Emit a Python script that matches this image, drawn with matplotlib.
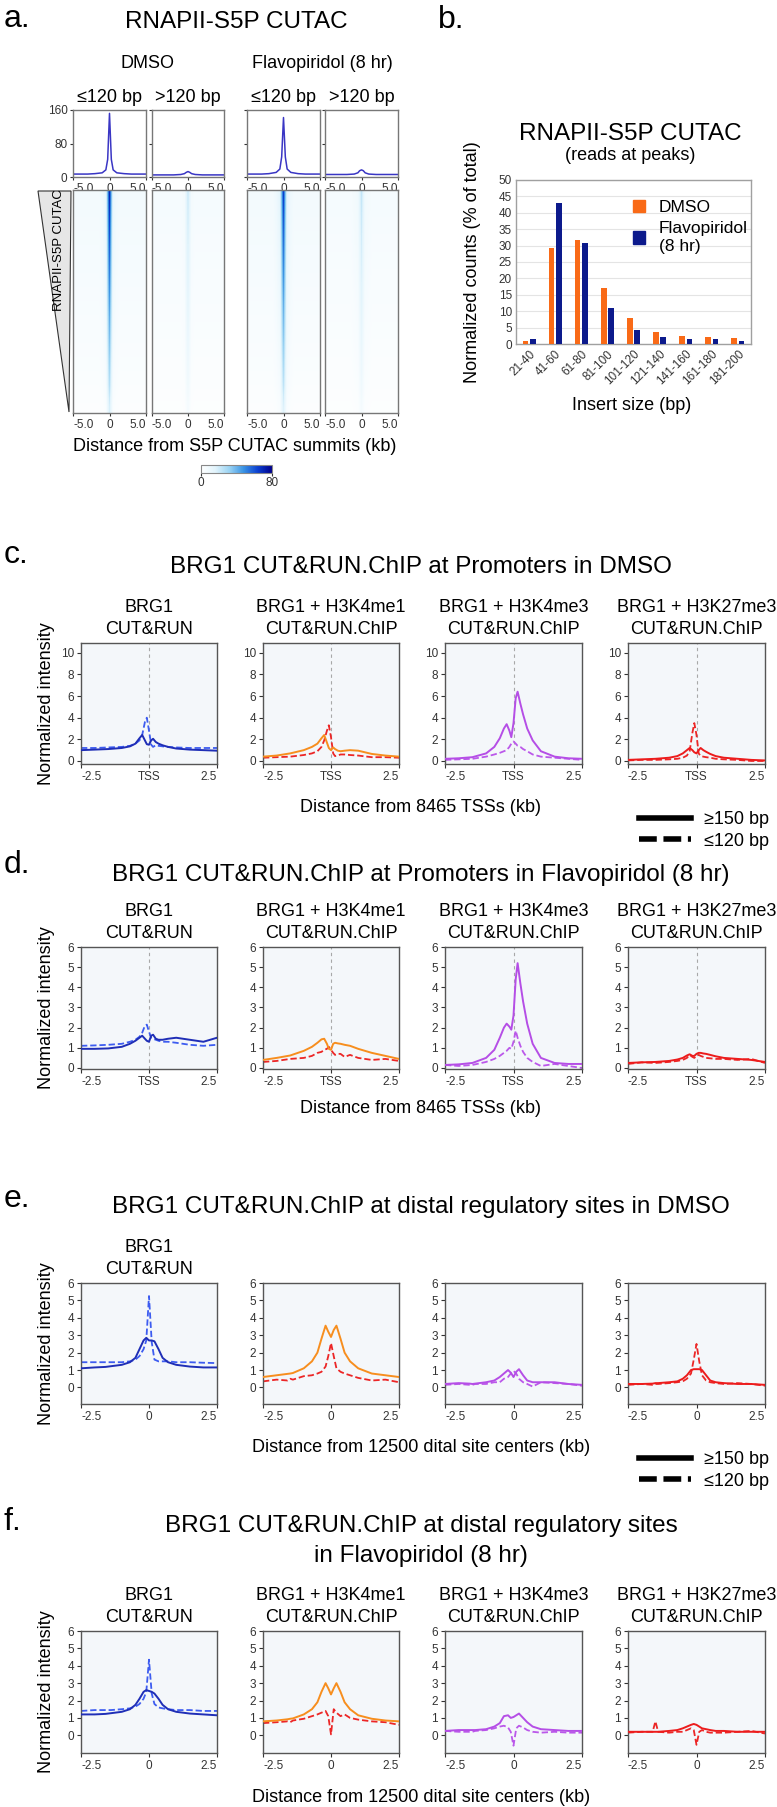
import numpy as np
import matplotlib
matplotlib.use("Agg")
import matplotlib.pyplot as plt
from matplotlib.colors import LinearSegmentedColormap
from matplotlib.lines import Line2D
from matplotlib.patches import Patch, Polygon

plt.rcParams['font.family'] = ['Liberation Sans', 'DejaVu Sans']

# ------------------------
# Data
# ------------------------

# a. RNAPII-S5P CUTAC profiles around summits (kb)
a_x = [-5.0, -3.0, -2.0, -1.0, -0.5, -0.25, 0.0, 0.25, 0.5, 1.0, 2.0, 3.0, 5.0]
a_dmso_short = [7, 7, 8, 10, 17, 42, 152, 42, 17, 10, 8, 7, 7]
a_dmso_long = [5, 5, 5, 6, 8, 11, 13, 11, 8, 6, 5, 5, 5]
a_flavo_short = [7, 7, 8, 11, 19, 48, 142, 48, 19, 11, 8, 7, 7]
a_flavo_long = [6, 6, 6, 7, 10, 15, 17, 15, 10, 7, 6, 6, 6]

# heatmap: row scaling (top -> bottom) and column intensity (21 bins, -5..5 kb)
heat_rows = [1.35, 1.3, 1.25, 1.2, 1.15, 1.1, 1.05, 1.0, 0.95, 0.9,
             0.85, 0.8, 0.75, 0.7, 0.65, 0.6, 0.55, 0.5, 0.42, 0.35]
heat_dmso_short = [5, 5, 5, 5, 5, 5, 5, 5, 6, 9, 52, 9, 6, 5, 5, 5, 5, 5, 5, 5, 5]
heat_dmso_long = [4, 4, 4, 4, 4, 4, 4, 4, 4, 5, 16, 5, 4, 4, 4, 4, 4, 4, 4, 4, 4]
heat_flavo_short = [5, 5, 5, 5, 5, 5, 5, 5, 7, 11, 48, 11, 7, 5, 5, 5, 5, 5, 5, 5, 5]
heat_flavo_long = [4, 4, 4, 4, 4, 4, 4, 4, 5, 6, 17, 6, 5, 4, 4, 4, 4, 4, 4, 4, 4]

# b. insert size distribution (% of total)
b_bins = ['21-40', '41-60', '61-80', '81-100', '101-120', '121-140', '141-160', '161-180', '181-200']
b_dmso = [0.9, 29.3, 31.8, 17.1, 7.9, 3.8, 2.4, 2.0, 1.8]
b_flavo = [1.5, 42.9, 30.9, 11.1, 4.4, 2.1, 1.5, 1.5, 1.0]

# c/d. promoters (distance from TSS, kb)
x_prom = [-2.5, -2.0, -1.5, -1.0, -0.7, -0.5, -0.35, -0.25, -0.15, -0.08, 0.0,
          0.08, 0.15, 0.25, 0.35, 0.5, 0.7, 1.0, 1.5, 2.0, 2.5]
c_brg1_long = [1.0, 1.05, 1.1, 1.2, 1.35, 1.6, 2.1, 2.4, 1.9, 1.55, 1.5, 1.9, 2.05, 1.75, 1.6, 1.45, 1.3, 1.15, 1.05, 1.0, 0.95]
c_brg1_short = [1.2, 1.2, 1.25, 1.3, 1.4, 1.6, 1.9, 2.4, 3.6, 4.0, 2.8, 1.5, 1.3, 1.45, 1.4, 1.35, 1.3, 1.25, 1.2, 1.2, 1.2]
c_me1_long = [0.4, 0.5, 0.7, 1.0, 1.3, 1.6, 2.1, 2.4, 1.7, 1.2, 1.0, 1.25, 1.1, 0.95, 0.9, 0.95, 1.0, 0.95, 0.65, 0.5, 0.4]
c_me1_short = [0.3, 0.35, 0.4, 0.55, 0.7, 0.9, 1.3, 1.9, 2.8, 3.3, 2.2, 0.7, 0.45, 0.5, 0.6, 0.6, 0.55, 0.5, 0.35, 0.35, 0.3]
c_me3_long = [0.2, 0.25, 0.35, 0.7, 1.3, 2.1, 3.0, 3.4, 2.8, 2.2, 3.5, 5.8, 6.4, 5.3, 4.3, 3.0, 1.9, 0.9, 0.4, 0.25, 0.2]
c_me3_short = [0.1, 0.15, 0.2, 0.4, 0.6, 0.75, 0.9, 1.0, 1.3, 1.6, 1.8, 1.6, 1.4, 1.3, 1.1, 0.9, 0.6, 0.4, 0.3, 0.2, 0.1]
c_k27_long = [0.1, 0.15, 0.2, 0.3, 0.45, 0.7, 1.0, 1.2, 1.0, 0.8, 0.7, 1.0, 1.2, 1.0, 0.85, 0.65, 0.45, 0.3, 0.2, 0.1, 0.05]
c_k27_short = [0.05, 0.1, 0.1, 0.15, 0.2, 0.3, 0.5, 0.9, 2.6, 3.5, 2.4, 0.7, 0.45, 0.4, 0.35, 0.3, 0.2, 0.15, 0.1, 0.0, 0.0]

d_brg1_long = [0.95, 0.95, 0.97, 1.05, 1.2, 1.35, 1.5, 1.6, 1.45, 1.35, 1.3, 1.6, 1.65, 1.45, 1.4, 1.4, 1.45, 1.5, 1.4, 1.3, 1.5]
d_brg1_short = [1.1, 1.12, 1.15, 1.2, 1.3, 1.4, 1.55, 1.75, 2.1, 2.15, 1.8, 1.5, 1.45, 1.4, 1.35, 1.3, 1.3, 1.25, 1.15, 1.1, 1.15]
d_me1_long = [0.4, 0.5, 0.62, 0.85, 1.05, 1.25, 1.42, 1.45, 1.2, 0.95, 0.9, 1.2, 1.25, 1.22, 1.2, 1.15, 1.1, 0.95, 0.75, 0.6, 0.45]
d_me1_short = [0.3, 0.35, 0.45, 0.5, 0.6, 0.75, 0.8, 0.9, 0.95, 1.05, 0.9, 0.75, 0.65, 0.7, 0.7, 0.55, 0.65, 0.5, 0.4, 0.45, 0.35]
d_me3_long = [0.15, 0.18, 0.25, 0.5, 0.9, 1.5, 2.0, 2.2, 2.05, 1.9, 2.6, 4.4, 5.2, 4.2, 3.3, 2.2, 1.2, 0.5, 0.25, 0.2, 0.2]
d_me3_short = [0.15, 0.1, 0.15, 0.3, 0.45, 0.6, 0.75, 0.85, 1.0, 0.95, 1.3, 1.85, 1.5, 1.1, 0.8, 0.5, 0.3, 0.1, 0.2, 0.1, 0.0]
d_k27_long = [0.25, 0.28, 0.3, 0.35, 0.42, 0.5, 0.62, 0.68, 0.6, 0.6, 0.7, 0.75, 0.75, 0.72, 0.7, 0.65, 0.58, 0.5, 0.45, 0.4, 0.3]
d_k27_short = [0.2, 0.28, 0.25, 0.3, 0.35, 0.4, 0.5, 0.65, 0.55, 0.5, 0.6, 0.65, 0.6, 0.55, 0.5, 0.48, 0.45, 0.45, 0.4, 0.45, 0.25]

# e/f. distal regulatory sites (distance from site center, kb)
x_dist = [-2.5, -2.0, -1.6, -1.5, -1.4, -1.0, -0.7, -0.5, -0.35, -0.2, -0.1, 0.0,
          0.1, 0.2, 0.35, 0.5, 0.7, 1.0, 1.5, 2.0, 2.5]
e_brg1_long = [1.1, 1.15, 1.18, 1.2, 1.22, 1.3, 1.45, 1.7, 2.2, 2.7, 2.85, 2.7, 2.7, 2.65, 2.2, 1.7, 1.45, 1.3, 1.2, 1.15, 1.15]
e_brg1_short = [1.45, 1.45, 1.45, 1.45, 1.45, 1.45, 1.5, 1.6, 1.8, 2.2, 2.7, 5.25, 2.6, 1.6, 1.5, 1.5, 1.5, 1.45, 1.45, 1.42, 1.4]
e_me1_long = [0.6, 0.7, 0.78, 0.8, 0.83, 1.1, 1.5, 2.0, 2.8, 3.55, 3.2, 2.9, 3.3, 3.55, 2.8, 2.0, 1.5, 1.1, 0.8, 0.7, 0.6]
e_me1_short = [0.35, 0.45, 0.4, 0.5, 0.45, 0.65, 0.7, 0.8, 0.9, 1.2, 1.8, 2.55, 1.8, 1.1, 0.9, 0.8, 0.7, 0.55, 0.4, 0.45, 0.3]
e_me3_long = [0.2, 0.25, 0.22, 0.2, 0.22, 0.3, 0.4, 0.6, 0.8, 1.0, 0.85, 0.6, 0.9, 1.05, 0.7, 0.4, 0.3, 0.3, 0.3, 0.2, 0.15]
e_me3_short = [0.15, 0.2, 0.15, 0.15, 0.2, 0.2, 0.3, 0.3, 0.5, 0.6, 0.8, 0.95, 0.8, 0.5, 0.3, 0.2, 0.05, 0.3, 0.25, 0.2, 0.1]
e_k27_long = [0.2, 0.2, 0.22, 0.25, 0.25, 0.3, 0.35, 0.5, 0.7, 1.0, 1.05, 1.05, 1.05, 1.0, 0.7, 0.4, 0.3, 0.25, 0.2, 0.2, 0.15]
e_k27_short = [0.15, 0.2, 0.15, 0.2, 0.2, 0.25, 0.3, 0.35, 0.5, 0.8, 1.6, 2.5, 1.5, 0.7, 0.4, 0.3, 0.25, 0.2, 0.25, 0.2, 0.1]

f_brg1_long = [1.2, 1.2, 1.23, 1.25, 1.27, 1.35, 1.5, 1.75, 2.1, 2.5, 2.6, 2.55, 2.5, 2.4, 2.1, 1.75, 1.5, 1.35, 1.25, 1.2, 1.15]
f_brg1_short = [1.4, 1.45, 1.45, 1.45, 1.45, 1.5, 1.55, 1.65, 1.8, 2.1, 2.5, 4.35, 2.4, 1.8, 1.6, 1.55, 1.5, 1.45, 1.45, 1.4, 1.4]
f_me1_long = [0.8, 0.85, 0.92, 0.95, 0.97, 1.2, 1.5, 1.9, 2.5, 3.0, 2.7, 2.35, 2.7, 3.0, 2.5, 1.9, 1.5, 1.15, 0.95, 0.85, 0.8]
f_me1_short = [0.7, 0.75, 0.8, 0.75, 0.85, 0.95, 1.1, 1.2, 1.3, 1.4, 1.1, 0.05, 1.5, 1.3, 1.1, 1.2, 1.0, 0.9, 0.8, 0.75, 0.6]
f_me3_long = [0.25, 0.3, 0.3, 0.3, 0.3, 0.35, 0.5, 0.7, 1.1, 1.15, 1.0, 1.05, 1.15, 1.25, 1.0, 0.75, 0.5, 0.35, 0.3, 0.25, 0.25]
f_me3_short = [0.25, 0.2, 0.2, 0.2, 0.25, 0.3, 0.4, 0.5, 0.55, 0.45, 0.2, -0.6, 0.4, 0.55, 0.45, 0.3, 0.2, 0.15, 0.2, 0.15, 0.15]
f_k27_long = [0.2, 0.2, 0.2, 0.2, 0.2, 0.25, 0.3, 0.4, 0.5, 0.6, 0.65, 0.6, 0.5, 0.4, 0.35, 0.3, 0.25, 0.25, 0.2, 0.2, 0.2]
f_k27_short = [0.15, 0.2, 0.2, 0.8, 0.2, 0.15, 0.2, 0.2, 0.3, 0.4, 0.3, -0.55, 0.2, 0.3, 0.2, 0.15, 0.15, 0.15, 0.2, 0.25, 0.1]

sub_titles = [('BRG1', 'CUT&RUN'), ('BRG1 + H3K4me1', 'CUT&RUN.ChIP'),
              ('BRG1 + H3K4me3', 'CUT&RUN.ChIP'), ('BRG1 + H3K27me3', 'CUT&RUN.ChIP')]
line_colors = [('#1f2eb6', '#3d5cf0'), ('#f78e1e', '#ec2626'),
               ('#b54ee6', '#bb58ea'), ('#ec1c1c', '#ec2626')]

# ------------------------
# Layout helpers (pixel coordinates, origin top-left)
# ------------------------
W, H = 777, 1807
fig = plt.figure(figsize=(W / 100, H / 100), dpi=100)


def box(x0, y0, x1, y1):
    return fig.add_axes([x0 / W, 1 - y1 / H, (x1 - x0) / W, (y1 - y0) / H])


def txt(x, y, s, size, **kw):
    kw.setdefault('ha', 'center')
    kw.setdefault('va', 'baseline')
    fig.text(x / W, 1 - y / H, s, fontsize=size, **kw)


def edge_labels(ax):
    labs = ax.get_xticklabels()
    labs[0].set_ha('left')
    labs[-1].set_ha('right')


def frame(ax, color='#555555'):
    for s in ax.spines.values():
        s.set_color(color)
        s.set_linewidth(1.0)


# ------------------------
# a. heatmaps
# ------------------------
txt(4, 27, 'a.', 23, ha='left')
txt(236, 28, 'RNAPII-S5P CUTAC', 17.5)
txt(148, 68, 'DMSO', 13)
txt(322, 68, 'Flavopiridol (8 hr)', 13)

heat_cmap = LinearSegmentedColormap.from_list(
    'cutac', ['#ffffff', '#e2f4fc', '#9ad3f3', '#3a93e4', '#0b3fd0', '#00008b'])

a_cols = [(73, 146), (152, 224), (247, 320), (325, 398)]
a_profiles = [a_dmso_short, a_dmso_long, a_flavo_short, a_flavo_long]
a_heat = [heat_dmso_short, heat_dmso_long, heat_flavo_short, heat_flavo_long]
a_heads = ['\u2264120 bp', '>120 bp', '\u2264120 bp', '>120 bp']

for i, (x0, x1) in enumerate(a_cols):
    txt((x0 + x1) / 2, 102, a_heads[i], 13)

    ax = box(x0, 110, x1, 177)
    ax.plot(a_x, a_profiles[i], color='#3a36c4', lw=1.1)
    ax.set_xlim(-5, 5)
    ax.set_ylim(0, 160)
    ax.set_yticks([0, 80, 160])
    ax.set_xticks([-5, 0, 5])
    ax.set_xticklabels(['-5.0', '0', '5.0'])
    edge_labels(ax)
    if i > 0:
        ax.set_yticklabels([])
    ax.tick_params(labelsize=8.5, length=2.5, pad=1.5, colors='#333333')
    frame(ax, '#777777')

    axh = box(x0, 190, x1, 413)
    img = np.outer(heat_rows, a_heat[i])
    im = axh.imshow(img, aspect='auto', cmap=heat_cmap, vmin=0, vmax=80,
                    extent=(-5, 5, len(heat_rows), 0), interpolation='bilinear')
    axh.set_xticks([-5, 0, 5])
    axh.set_xticklabels(['-5.0', '0', '5.0'])
    edge_labels(axh)
    axh.set_yticks([])
    axh.tick_params(labelsize=8.5, length=2.5, pad=2, colors='#333333')
    frame(axh, '#777777')

# sorting wedge
wedge = Polygon([(38 / W, 1 - 191 / H), (71 / W, 1 - 191 / H), (69 / W, 1 - 412 / H)],
                closed=True, transform=fig.transFigure, facecolor='#e6e6e6',
                edgecolor='#333333', lw=0.8)
fig.add_artist(wedge)
txt(59, 250, 'RNAPII-S5P CUTAC', 9.5, rotation=90, va='center')

txt(235, 451, 'Distance from S5P CUTAC summits (kb)', 13)

cax = box(201, 465, 272, 473)
cb = fig.colorbar(im, cax=cax, orientation='horizontal', ticks=[0, 80])
cb.outline.set_edgecolor('#888888')
cb.outline.set_linewidth(0.8)
cax.tick_params(labelsize=8.5, length=2, pad=1, colors='#333333')

# ------------------------
# b. insert size bars
# ------------------------
txt(438, 28, 'b.', 23, ha='left')
txt(630, 140, 'RNAPII-S5P CUTAC', 17.5)
txt(630, 160, '(reads at peaks)', 13)

axb = box(516, 180, 751, 344)
pos = np.arange(len(b_bins))
axb.bar(pos - 0.14, b_dmso, width=0.22, color='#f96a17', zorder=3)
axb.bar(pos + 0.14, b_flavo, width=0.22, color='#0c1a8c', zorder=3)
axb.set_xlim(-0.5, len(b_bins) - 0.5)
axb.set_ylim(0, 50)
axb.set_yticks(range(0, 51, 5))
axb.set_xticks(pos)
axb.set_xticklabels(b_bins, rotation=45, ha='right', va='top', rotation_mode='anchor')
axb.tick_params(axis='x', labelsize=8.5, length=0, pad=3, colors='#333333')
axb.tick_params(axis='y', labelsize=8.5, length=0, pad=3, colors='#333333')
axb.grid(axis='y', color='#e4e4e4', lw=0.8, zorder=0)
frame(axb, '#a0a0a0')
axb.legend([Patch(color='#f96a17'), Patch(color='#0c1a8c')],
           ['DMSO', 'Flavopiridol\n(8 hr)'], loc='upper left',
           bbox_to_anchor=(0.46, 0.93), frameon=False, fontsize=12.5,
           handlelength=0.7, handleheight=0.7, handletextpad=0.8,
           labelspacing=0.35, borderpad=0)
txt(472, 262, 'Normalized counts (% of total)', 13, rotation=90, va='center')
txt(632, 410, 'Insert size (bp)', 13)

# ------------------------
# c-f. profile rows
# ------------------------
cols_x = [(81, 217), (263, 399), (445, 582), (628, 765)]

rows = [
    dict(letter='c.', letter_y=563, titles=['BRG1 CUT&RUN.ChIP at Promoters in DMSO'], title_y=573,
         top=643, bot=764, ylim=(-0.28, 10.9), yticks=range(0, 11, 2), sub=[0, 1, 2, 3],
         x=x_prom, data=[(c_brg1_long, c_brg1_short), (c_me1_long, c_me1_short),
                         (c_me3_long, c_me3_short), (c_k27_long, c_k27_short)],
         xt=['-2.5', 'TSS', '2.5'], tss=True,
         xlabel='Distance from 8465 TSSs (kb)', xlabel_y=812, legend_y=813),
    dict(letter='d.', letter_y=873, titles=['BRG1 CUT&RUN.ChIP at Promoters in Flavopiridol (8 hr)'],
         title_y=881, top=947, bot=1069, ylim=(-0.05, 6), yticks=range(0, 7), sub=[0, 1, 2, 3],
         x=x_prom, data=[(d_brg1_long, d_brg1_short), (d_me1_long, d_me1_short),
                         (d_me3_long, d_me3_short), (d_k27_long, d_k27_short)],
         xt=['-2.5', 'TSS', '2.5'], tss=True,
         xlabel='Distance from 8465 TSSs (kb)', xlabel_y=1113, legend_y=None),
    dict(letter='e.', letter_y=1207, titles=['BRG1 CUT&RUN.ChIP at distal regulatory sites in DMSO'],
         title_y=1213, top=1283, bot=1404, ylim=(-0.95, 6), yticks=range(0, 7), sub=[0],
         x=x_dist, data=[(e_brg1_long, e_brg1_short), (e_me1_long, e_me1_short),
                         (e_me3_long, e_me3_short), (e_k27_long, e_k27_short)],
         xt=['-2.5', '0', '2.5'], tss=False,
         xlabel='Distance from 12500 dital site centers (kb)', xlabel_y=1452, legend_y=1453),
    dict(letter='f.', letter_y=1530, titles=['BRG1 CUT&RUN.ChIP at distal regulatory sites',
                                             'in Flavopiridol (8 hr)'],
         title_y=1532, top=1631, bot=1753, ylim=(-1.02, 6), yticks=range(0, 7), sub=[0, 1, 2, 3],
         x=x_dist, data=[(f_brg1_long, f_brg1_short), (f_me1_long, f_me1_short),
                         (f_me3_long, f_me3_short), (f_k27_long, f_k27_short)],
         xt=['-2.5', '0', '2.5'], tss=False,
         xlabel='Distance from 12500 dital site centers (kb)', xlabel_y=1802, legend_y=None),
]

for r in rows:
    txt(4, r['letter_y'], r['letter'], 23, ha='left')
    for k, t in enumerate(r['titles']):
        txt(421, r['title_y'] + 30 * k, t, 17.5)

    for j, (x0, x1) in enumerate(cols_x):
        if j in r['sub']:
            txt((x0 + x1) / 2, r['top'] - 31, sub_titles[j][0], 13)
            txt((x0 + x1) / 2, r['top'] - 9, sub_titles[j][1], 13)

        ax = box(x0, r['top'], x1, r['bot'])
        ax.set_facecolor('#f4f7fa')
        long_y, short_y = r['data'][j]
        c_long, c_short = line_colors[j]
        if r['tss']:
            ax.axvline(0, color='#a8a8a8', lw=0.8, dashes=(3, 3), zorder=1)
        ax.plot(r['x'], short_y, color=c_short, lw=1.3, dashes=(3.5, 1.6), zorder=2)
        ax.plot(r['x'], long_y, color=c_long, lw=1.4, zorder=3)
        ax.set_xlim(-2.5, 2.5)
        ax.set_ylim(*r['ylim'])
        ax.set_yticks(list(r['yticks']))
        ax.set_xticks([-2.5, 0, 2.5])
        ax.set_xticklabels(r['xt'])
        edge_labels(ax)
        ax.tick_params(labelsize=8.5, length=3, pad=2, colors='#333333')
        frame(ax, '#555555')

    txt(47, (r['top'] + r['bot']) / 2, 'Normalized intensity', 13, rotation=90, va='center')
    txt(421, r['xlabel_y'], r['xlabel'], 13)

    if r['legend_y'] is not None:
        handles = [Line2D([], [], color='black', lw=4),
                   Line2D([], [], color='black', lw=4, dashes=(3.2, 1.2))]
        fig.legend(handles, ['\u2265150 bp', '\u2264120 bp'], loc='upper left',
                   bbox_to_anchor=(630 / W, 1 - (r['legend_y'] - 11) / H),
                   frameon=False, fontsize=13, handlelength=2.9, handletextpad=0.7,
                   labelspacing=0.25, borderpad=0)

fig.savefig('out.png', dpi=100)
